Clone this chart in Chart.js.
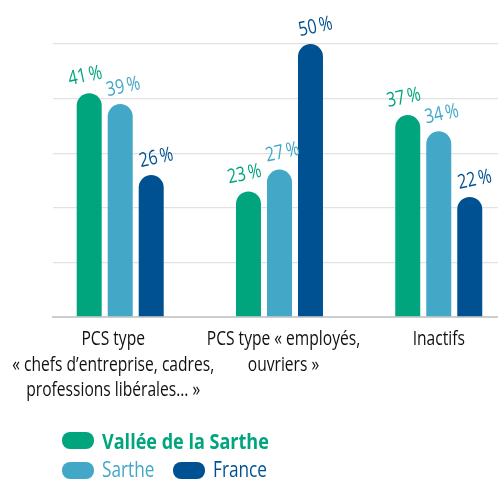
<!DOCTYPE html>
<html>
<head>
<meta charset="utf-8">
<script src="https://cdn.jsdelivr.net/npm/chart.js@4"></script>
<style>
  html, body { margin: 0; padding: 0; background: #fff; overflow: hidden; }
  #wrap { position: relative; width: 498px; height: 481px; }
  .sw { position: absolute; width: 32px; height: 17px; border-radius: 8px; }
  .lt { position: absolute; font-family: 'Open Sans', sans-serif; white-space: nowrap;
        transform: scaleX(0.82); transform-origin: 0 0; line-height: 1; }
</style>
</head>
<body>
<div id="wrap">
  <canvas id="myChart" width="498" height="481"></canvas>
  <div id="legend"></div>
</div>
<script>
// categories (multi-line tick labels)
const categories = [
  ['PCS type', '« chefs d’entreprise, cadres,', 'professions libérales… »'],
  ['PCS type « employés,', 'ouvriers »'],
  ['Inactifs']
]
const seriesNames = ['Vallée de la Sarthe', 'Sarthe', 'France']
const valleeValues = [41, 23, 37]
const sartheValues = [39, 27, 34]
const franceValues = [26, 50, 22]
const colors = ['#00a57e', '#43a7c8', '#005192']
const yTicks = [0, 10, 20, 30, 40, 50]

const FONT = "'Open Sans', sans-serif"

function toPoints(values) {
  return values.map((v, i) => ({ x: i + 1, y: v }))
}

// draws condensed text (the original uses a condensed face)
function squeezedText(ctx, txt, x, y, sq) {
  ctx.save()
  ctx.translate(x, y)
  ctx.scale(sq, 1)
  ctx.fillText(txt, 0, 0)
  ctx.restore()
}

// value labels, slightly tilted, above each bar
const valueLabels = {
  id: 'valueLabels',
  afterDatasetsDraw(chart) {
    const ctx = chart.ctx
    const shift = [-4, 3, 5]
    chart.data.datasets.forEach((ds, di) => {
      const meta = chart.getDatasetMeta(di)
      meta.data.forEach((bar, i) => {
        ctx.save()
        ctx.translate(bar.x + shift[di], bar.y - 17)
        ctx.rotate(-12 * Math.PI / 180)
        ctx.fillStyle = colors[di]
        ctx.font = '20px ' + FONT
        ctx.textAlign = 'center'
        ctx.textBaseline = 'middle'
        squeezedText(ctx, ds.data[i].y + '\u2009%', 0, 0, 0.8)
        ctx.restore()
      })
    })
  }
}

// category labels under the axis (condensed)
const categoryLabels = {
  id: 'categoryLabels',
  afterDraw(chart) {
    const ctx = chart.ctx
    const xs = chart.scales.x
    const base = chart.chartArea.bottom
    const nudge = [-7, 4, 0]
    ctx.save()
    ctx.fillStyle = '#111'
    ctx.font = '20px ' + FONT
    ctx.textAlign = 'center'
    ctx.textBaseline = 'alphabetic'
    categories.forEach((lines, i) => {
      const x = xs.getPixelForValue(i + 1) + nudge[i]
      lines.forEach((line, k) => squeezedText(ctx, line, x, base + 28 + k * 25.5, 0.78))
    })
    ctx.restore()
  }
}

var ctx = document.getElementById('myChart').getContext('2d')
var chart = new Chart(ctx, {
  type: 'bar',
  data: {
    datasets: [
      { label: seriesNames[0], data: toPoints(valleeValues), backgroundColor: colors[0] },
      { label: seriesNames[1], data: toPoints(sartheValues), backgroundColor: colors[1] },
      { label: seriesNames[2], data: toPoints(franceValues), backgroundColor: colors[2] }
    ]
  },
  options: {
    responsive: false,
    animation: false,
    layout: { padding: { top: 44, left: 0, right: 0, bottom: 0 } },
    datasets: {
      bar: {
        categoryPercentage: 0.584,
        barPercentage: 0.806,
        borderRadius: { topLeft: 13, topRight: 13, bottomLeft: 0, bottomRight: 0 },
        borderSkipped: 'start'
      }
    },
    plugins: {
      legend: { display: false },
      tooltip: { enabled: false }
    },
    scales: {
      x: {
        type: 'linear',
        offset: false,
        min: 0.578,
        max: 3.372,
        afterFit: s => { s.height = 164 },
        afterBuildTicks: s => { s.ticks = categories.map((c, i) => ({ value: i + 1 })) },
        grid: { display: false },
        border: { display: true, color: '#cdcdcd', width: 2 },
        ticks: { display: false }
      },
      y: {
        min: 0,
        max: 50,
        afterFit: s => { s.width = 53 },
        afterBuildTicks: s => { s.ticks = yTicks.map(v => ({ value: v })) },
        grid: { color: '#e2e2e2', lineWidth: 1.3, drawTicks: false },
        border: { display: false },
        ticks: { display: false }
      }
    }
  },
  plugins: [valueLabels, categoryLabels]
})

// legend: first series on its own row, then the other two
const legendItems = [
  { k: 0, sx: 62, sy: 432, tx: 102, ty: 429, size: 22, weight: 'bold' },
  { k: 1, sx: 62, sy: 462, tx: 102, ty: 459, size: 21, weight: 'normal' },
  { k: 2, sx: 173, sy: 462, tx: 213, ty: 459, size: 21, weight: 'normal' }
]
const legend = document.getElementById('legend')
legendItems.forEach(it => {
  const sw = document.createElement('div')
  sw.className = 'sw'
  sw.style.cssText = 'left:' + it.sx + 'px;top:' + it.sy + 'px;background:' + colors[it.k]
  legend.appendChild(sw)
  const t = document.createElement('div')
  t.className = 'lt'
  t.style.left = it.tx + 'px'
  t.style.top = it.ty + 'px'
  t.style.fontSize = it.size + 'px'
  t.style.fontWeight = it.weight
  t.style.color = colors[it.k]
  t.textContent = seriesNames[it.k]
  legend.appendChild(t)
})
</script>
</body>
</html>
